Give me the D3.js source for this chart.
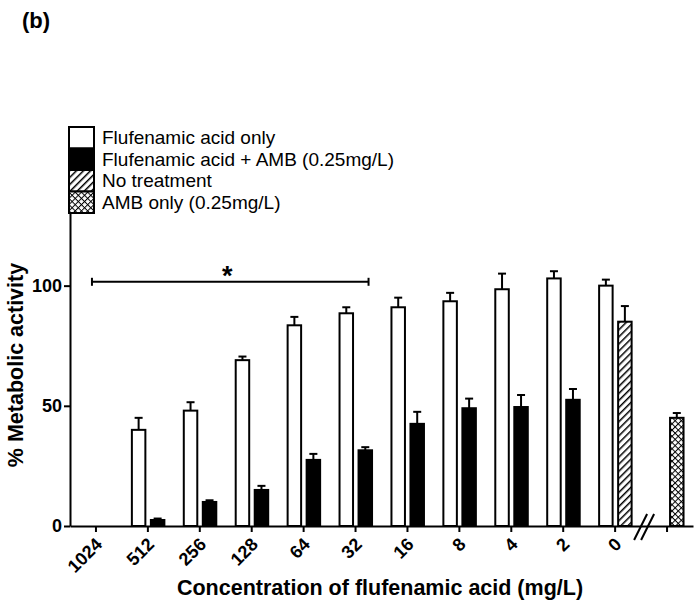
<!DOCTYPE html>
<html>
<head>
<meta charset="UTF-8">
<title>Metabolic activity vs flufenamic acid</title>
<script src="https://cdn.jsdelivr.net/npm/d3@7"></script>
<style>
    body { margin: 0; background: #fff; }
    svg { font-family: Arial, "Liberation Sans", sans-serif; }
    .axis path, .axis line { stroke: #000; stroke-width: 2px; }
    .axis text { font-size: 18px; font-weight: bold; fill: #000; }
    .title { font-size: 21.5px; font-weight: bold; }
    .legend text { font-size: 19px; }
</style>
</head>
<body>
<script>
// concentrations (mg/L); last slot is the AMB-only group after the axis break
var categories = ["1024", "512", "256", "128", "64", "32", "16", "8", "4", "2", "0", "amb"];
var tickLabels = ["1024", "512", "256", "128", "64", "32", "16", "8", "4", "2", "0", ""];

var fluOnly    = [null, 40, 48, 69, 83.5, 88.5, 91, 93.5, 98.5, 103, 100, null];
var fluOnlyErr = [null, 5, 3.5, 1.5, 3.5, 2.5, 4, 3.5, 6.5, 3, 2.5, null];
var fluAmb     = [null, 2.5, 10, 15, 27.5, 31.5, 42.5, 49, 49.5, 52.5, null, null];
var fluAmbErr  = [null, 0.6, 0.7, 1.7, 2.5, 1.3, 5, 4, 5, 4.5, null, null];
var noTreat    = [null, null, null, null, null, null, null, null, null, null, 85, null];
var noTreatErr = [null, null, null, null, null, null, null, null, null, null, 6.5, null];
var ambOnly    = [null, null, null, null, null, null, null, null, null, null, null, 45];
var ambOnlyErr = [null, null, null, null, null, null, null, null, null, null, null, 2];

var yTicks = [0, 50, 100];
var legendLabels = ["Flufenamic acid only", "Flufenamic acid + AMB (0.25mg/L)", "No treatment", "AMB only (0.25mg/L)"];

var width = 700, height = 609;
var margin = {left: 70, right: 7, top: 127, bottom: 83};

var svg = d3.select("body").append("svg")
    .attr("width", width)
    .attr("height", height);

// fill patterns
var defs = svg.append("defs");
var hatch = defs.append("pattern")
    .attr("id", "hatch")
    .attr("patternUnits", "userSpaceOnUse")
    .attr("width", 5).attr("height", 5)
    .attr("patternTransform", "rotate(45)");
hatch.append("rect").attr("width", 5).attr("height", 5).attr("fill", "#fff");
hatch.append("line").attr("x1", 0).attr("y1", 0).attr("x2", 0).attr("y2", 5)
    .attr("stroke", "#000").attr("stroke-width", 3);

var cross = defs.append("pattern")
    .attr("id", "cross")
    .attr("patternUnits", "userSpaceOnUse")
    .attr("width", 4.4).attr("height", 4.4)
    .attr("patternTransform", "rotate(45)");
cross.append("rect").attr("width", 4.4).attr("height", 4.4).attr("fill", "#fff");
cross.append("line").attr("x1", 0).attr("y1", 0).attr("x2", 0).attr("y2", 4.4)
    .attr("stroke", "#000").attr("stroke-width", 2);
cross.append("line").attr("x1", 0).attr("y1", 0).attr("x2", 4.4).attr("y2", 0)
    .attr("stroke", "#000").attr("stroke-width", 2);

var x0 = d3.scaleBand()
    .domain(categories)
    .range([margin.left, width - margin.right]);

// two bar slots around each tick
var x1 = d3.scaleBand()
    .domain([0, 1])
    .range([-16, 16.5])
    .paddingInner(0.29);

var y = d3.scaleLinear()
    .domain([0, 166])
    .range([height - margin.bottom, margin.top]);

function center(c) { return x0(c) + x0.bandwidth() / 2; }

var bars = [];
categories.forEach(function(c, i) {
    if (fluOnly[i] != null) bars.push({cat: c, slot: 0, value: fluOnly[i], err: fluOnlyErr[i], fill: "#fff"});
    if (fluAmb[i] != null) bars.push({cat: c, slot: 1, value: fluAmb[i], err: fluAmbErr[i], fill: "#000"});
    if (noTreat[i] != null) bars.push({cat: c, slot: 1, value: noTreat[i], err: noTreatErr[i], fill: "url(#hatch)"});
    if (ambOnly[i] != null) bars.push({cat: c, slot: 1, value: ambOnly[i], err: ambOnlyErr[i], fill: "url(#cross)"});
});

// error bars (upper only)
var err = svg.append("g").selectAll("g")
    .data(bars)
    .enter().append("g")
    .attr("transform", function(d) {
        return "translate(" + (center(d.cat) + x1(d.slot) + x1.bandwidth() / 2) + ",0)";
    });
err.append("line")
    .attr("y1", function(d) { return y(d.value); })
    .attr("y2", function(d) { return y(d.value + d.err); })
    .attr("stroke", "#000").attr("stroke-width", 2);
err.append("line")
    .attr("x1", -4).attr("x2", 4)
    .attr("y1", function(d) { return y(d.value + d.err); })
    .attr("y2", function(d) { return y(d.value + d.err); })
    .attr("stroke", "#000").attr("stroke-width", 2);

svg.append("g").selectAll("rect")
    .data(bars)
    .enter().append("rect")
    .attr("x", function(d) { return center(d.cat) + x1(d.slot); })
    .attr("width", x1.bandwidth())
    .attr("y", function(d) { return y(d.value); })
    .attr("height", function(d) { return y(0) - y(d.value); })
    .attr("fill", function(d) { return d.fill; })
    .attr("stroke", "#000")
    .attr("stroke-width", 2);

// axes
var xAxis = svg.append("g")
    .attr("class", "axis")
    .attr("transform", "translate(0," + y(0) + ")")
    .call(d3.axisBottom(x0)
        .tickSize(6)
        .tickSizeOuter(0)
        .tickFormat(function(d, i) { return tickLabels[i]; }));
xAxis.selectAll("text")
    .attr("text-anchor", "end")
    .attr("dy", "0.35em")
    .attr("y", 0)
    .attr("transform", "translate(3,15) rotate(-45)");

svg.append("g")
    .attr("class", "axis")
    .attr("transform", "translate(" + margin.left + ",0)")
    .call(d3.axisLeft(y).tickValues(yTicks).tickSize(6).tickSizeOuter(0).tickPadding(2));

// axis break marks
var mid = (center("0") + center("amb")) / 2 + 3;
svg.append("g").selectAll("line")
    .data([-3.5, 3.5])
    .enter().append("line")
    .attr("x1", function(d) { return mid + d - 6.5; })
    .attr("y1", y(0) + 14)
    .attr("x2", function(d) { return mid + d + 6.5; })
    .attr("y2", y(0) - 12)
    .attr("stroke", "#000").attr("stroke-width", 2);

// significance bracket
var bx1 = center("1024") - 4, bx2 = center("32") + 13, by = y(101.6);
var bracket = svg.append("g").attr("stroke", "#000").attr("stroke-width", 2);
bracket.append("line").attr("x1", bx1).attr("x2", bx2).attr("y1", by).attr("y2", by);
bracket.append("line").attr("x1", bx1).attr("x2", bx1).attr("y1", by - 4).attr("y2", by + 4);
bracket.append("line").attr("x1", bx2).attr("x2", bx2).attr("y1", by - 4).attr("y2", by + 4);
svg.append("text")
    .attr("x", (bx1 + bx2) / 2 - 3)
    .attr("y", by + 3)
    .attr("text-anchor", "middle")
    .style("font-size", "27px")
    .style("font-weight", "bold")
    .text("*");

// legend
var legend = svg.append("g")
    .attr("class", "legend")
    .selectAll("g")
    .data(legendLabels)
    .enter().append("g")
    .attr("transform", function(d, i) { return "translate(69," + (127 + i * 21.5) + ")"; });
legend.append("rect")
    .attr("width", 25)
    .attr("height", 21.5)
    .attr("fill", function(d, i) { return ["#fff", "#000", "url(#hatch)", "url(#cross)"][i]; })
    .attr("stroke", "#000")
    .attr("stroke-width", 2);
legend.append("text")
    .attr("x", 33)
    .attr("y", 17)
    .text(function(d) { return d; });

// titles
svg.append("text")
    .attr("class", "title")
    .attr("x", 380)
    .attr("y", 595)
    .attr("text-anchor", "middle")
    .text("Concentration of flufenamic acid (mg/L)");

svg.append("text")
    .attr("class", "title")
    .attr("transform", "translate(23,365) rotate(-90)")
    .attr("text-anchor", "middle")
    .text("% Metabolic activity");

svg.append("text")
    .attr("x", 22)
    .attr("y", 28)
    .style("font-size", "22px")
    .style("font-weight", "bold")
    .text("(b)");
</script>
</body>
</html>
